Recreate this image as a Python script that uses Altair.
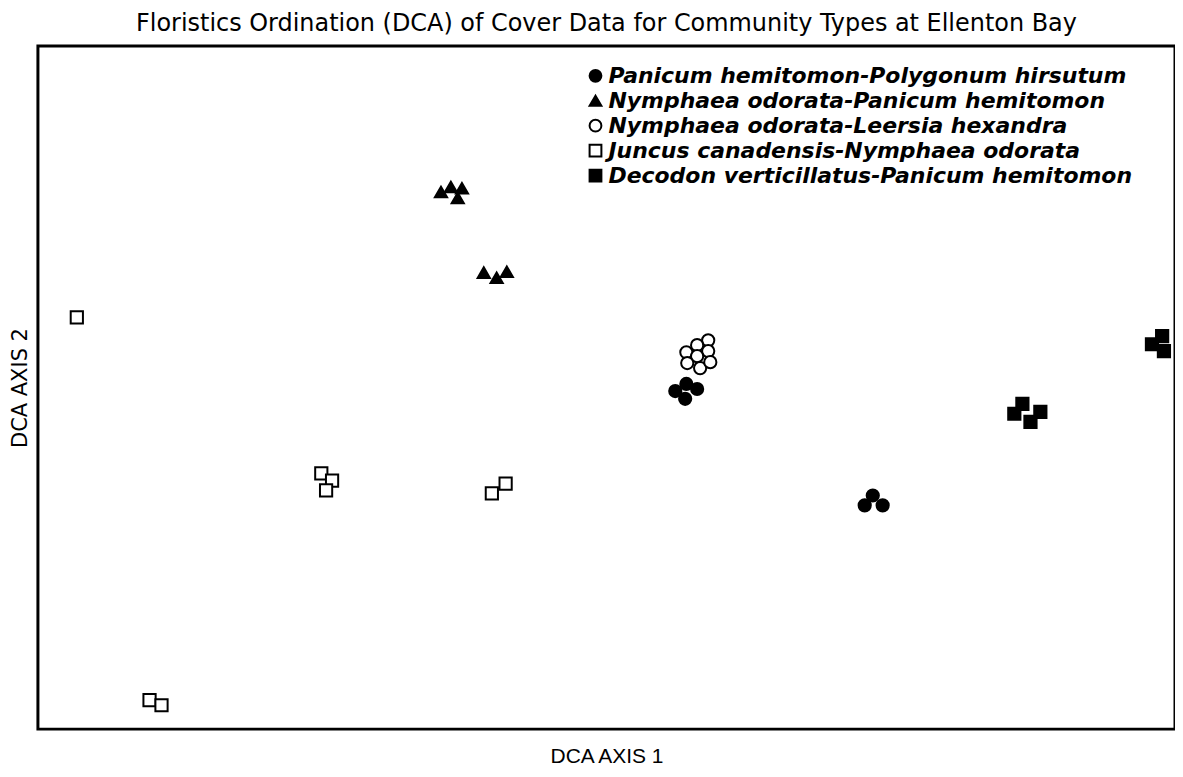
import altair as alt
import pandas as pd

types = [
    "Panicum hemitomon-Polygonum hirsutum",
    "Nymphaea odorata-Panicum hemitomon",
    "Nymphaea odorata-Leersia hexandra",
    "Juncus canadensis-Nymphaea odorata",
    "Decodon verticillatus-Panicum hemitomon",
]
shapes = ["circle", "triangle-up", "circle", "square", "square"]
fills = ["black", "black", "white", "white", "black"]
strokes = ["black", "black", "black", "black", "black"]

pp_x = [213.0, 216.7, 220.3, 216.3, 276.3, 279.0, 282.3]
pp_y = [113.3, 115.7, 114.0, 110.7, 75.0, 78.3, 75.0]

np_x = [134.7, 138.0, 141.7, 140.3, 149.0, 153.3, 156.7]
np_y = [180.0, 181.7, 181.3, 178.0, 153.0, 151.3, 153.3]

nl_x = [224.0, 220.3, 216.7, 224.0, 220.3, 217.0, 221.3, 224.7]
nl_y = [130.3, 128.7, 126.3, 126.7, 125.0, 122.7, 121.0, 123.0]

jn_x = [13.0, 94.7, 98.3, 96.3, 151.7, 156.3, 37.3, 41.3]
jn_y = [138.0, 85.7, 83.3, 80.0, 79.0, 82.3, 9.7, 8.0]

dp_x = [329.0, 326.3, 331.7, 335.0, 372.3, 375.7, 376.3]
dp_y = [109.0, 105.7, 103.0, 106.3, 129.0, 131.7, 126.7]

rows = []
for t, xs, ys in zip(types, [pp_x, np_x, nl_x, jn_x, dp_x], [pp_y, np_y, nl_y, jn_y, dp_y]):
    for x, y in zip(xs, ys):
        rows.append({"axis1": x, "axis2": y, "type": t})
df = pd.DataFrame(rows)

legend = alt.Legend(
    title=None,
    orient="none",
    legendX=548,
    legendY=19,
    padding=0,
    labelFont="DejaVu Sans",
    labelFontStyle="italic",
    labelFontWeight="bold",
    labelFontSize=22,
    labelColor="black",
    labelLimit=0,
    labelOffset=2,
    rowPadding=3,
    symbolSize=140,
    symbolStrokeWidth=2,
)

chart = (
    alt.Chart(df)
    .mark_point(filled=False, strokeWidth=2, size=150, opacity=1)
    .encode(
        x=alt.X("axis1:Q", scale=alt.Scale(domain=[0, 380], nice=False, zero=False),
                axis=alt.Axis(title="DCA AXIS 1", labels=False, ticks=False, domain=False,
                              grid=False, titleFontSize=21, titleFont="Liberation Sans",
                              titleFontWeight="normal", titlePadding=16, titleColor="black")),
        y=alt.Y("axis2:Q", scale=alt.Scale(domain=[0, 229], nice=False, zero=False),
                axis=alt.Axis(title="DCA AXIS 2", labels=False, ticks=False, domain=False,
                              grid=False, titleFontSize=21, titleFont="DejaVu Sans",
                              titleFontWeight="normal", titlePadding=7, titleColor="black")),
        shape=alt.Shape("type:N", scale=alt.Scale(domain=types, range=shapes), legend=legend),
        fill=alt.Fill("type:N", scale=alt.Scale(domain=types, range=fills), legend=legend),
        stroke=alt.Stroke("type:N", scale=alt.Scale(domain=types, range=strokes), legend=legend),
    )
    .properties(
        width=1140,
        height=685,
        title=alt.Title(
            "Floristics Ordination (DCA) of Cover Data for Community Types at Ellenton Bay",
            font="DejaVu Sans", fontSize=24, fontWeight="normal", color="black",
            anchor="middle", offset=10,
        ),
        padding={"left": 30, "top": 37, "right": 0, "bottom": 38},
        autosize=alt.AutoSizeParams(type="none"),
    )
    .configure_view(stroke="black", strokeWidth=3)
)

chart.save("out.html", embed_options={"renderer": "svg", "actions": False})
